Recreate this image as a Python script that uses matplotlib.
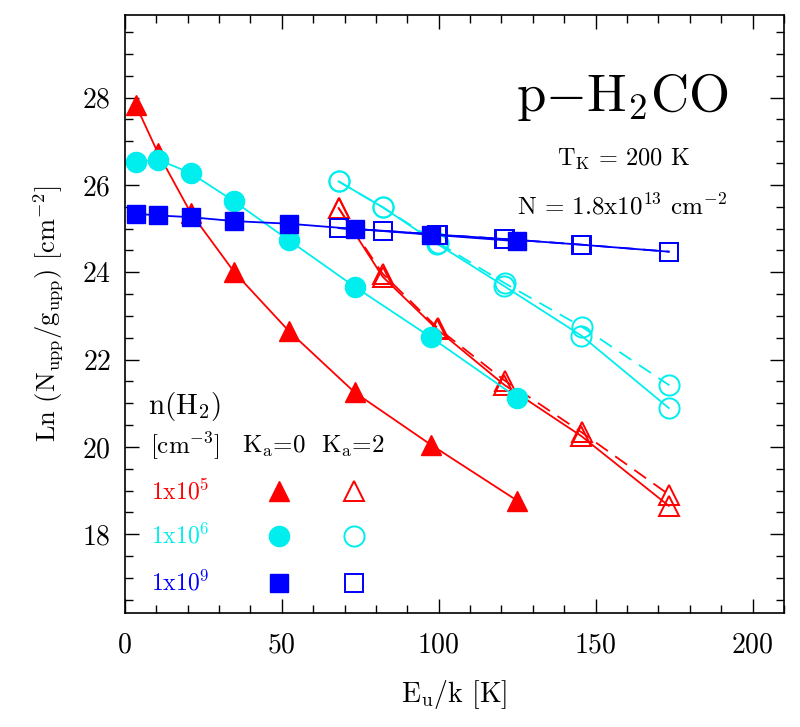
import matplotlib

matplotlib.use('Agg')

import matplotlib.pyplot as plt
from matplotlib.ticker import MultipleLocator

plt.rcParams['font.family'] = 'cmr10'
plt.rcParams['mathtext.fontset'] = 'cm'
plt.rcParams['axes.formatter.use_mathtext'] = True

# upper level energies (K)
eu_k0 = [3.5, 10.5, 21.0, 34.9, 52.3, 73.2, 97.5, 125.0]
eu_k2_a = [68.1, 82.1, 99.5, 120.9, 145.4, 173.3]
eu_k2_b = [68.1, 82.1, 99.7, 121.0, 145.6, 173.5]

# n(H2) = 1e5
red_k0 = [27.83, 26.74, 25.36, 24.0, 22.65, 21.25, 20.05, 18.77]
red_k2_a = [25.47, 23.90, 22.69, 21.42, 20.25, 18.65]
red_k2_b = [25.47, 23.97, 22.72, 21.52, 20.33, 18.90]

# n(H2) = 1e6
cyan_k0 = [26.52, 26.58, 26.27, 25.62, 24.73, 23.67, 22.51, 21.13]
cyan_k2_a = [26.08, 25.49, 24.65, 23.68, 22.55, 20.89]
cyan_k2_b = [26.08, 25.49, 24.68, 23.75, 22.75, 21.41]

# n(H2) = 1e9
blue_k0 = [25.34, 25.30, 25.26, 25.17, 25.11, 24.99, 24.86, 24.71]
blue_k2_a = [25.01, 24.95, 24.86, 24.76, 24.63, 24.47]
blue_k2_b = [25.01, 24.95, 24.86, 24.76, 24.63, 24.47]

densities = [r'1x10$^5$', r'1x10$^6$', r'1x10$^9$']
colors = ['#ff0000', '#00eeee', '#0000ff']
markers = ['^', 'o', 's']
msizes = [14, 14.5, 13]

fig = plt.figure(figsize=(8, 7.27), dpi=100)
ax = fig.add_axes([0.156, 0.157, 0.824, 0.823])

series = [
    (red_k0, red_k2_a, red_k2_b),
    (cyan_k0, cyan_k2_a, cyan_k2_b),
    (blue_k0, blue_k2_a, blue_k2_b),
]
for (k0, k2a, k2b), c, m, ms in zip(series, colors, markers, msizes):
    ax.plot(eu_k2_b, k2b, color=c, lw=1.3, ls=(0, (8, 5)), marker=m, ms=ms,
            mfc='none', mec=c, mew=1.4)
    ax.plot(eu_k2_a, k2a, color=c, lw=1.3, marker=m, ms=ms,
            mfc='none', mec=c, mew=1.4)
    ax.plot(eu_k0, k0, color=c, lw=1.3, marker=m, ms=ms, mfc=c, mec=c)

ax.set_xlim(0, 210)
ax.set_ylim(16.2, 29.9)
ax.xaxis.set_major_locator(MultipleLocator(50))
ax.xaxis.set_minor_locator(MultipleLocator(10))
ax.yaxis.set_major_locator(MultipleLocator(2))
ax.yaxis.set_minor_locator(MultipleLocator(0.5))
ax.tick_params(which='both', direction='in', top=True, right=True, labelsize=20)
ax.tick_params(which='major', length=10, width=1.0)
ax.tick_params(which='minor', length=5.5, width=1.0)
ax.tick_params(axis='x', pad=14)
ax.tick_params(axis='y', pad=10)
for s in ax.spines.values():
    s.set_linewidth(1.2)

ax.set_xlabel(r'E$_\mathrm{u}$/k [K]', fontsize=20, labelpad=14)
ax.set_ylabel(r'Ln (N$_\mathrm{upp}$/g$_\mathrm{upp}$) [cm$^{-2}$]', fontsize=19, labelpad=12)

tr = ax.transAxes
ax.text(0.754, 0.862, r'p$-$H$_2$CO', fontsize=38, ha='center', va='center', transform=tr)
ax.text(0.757, 0.757, r'T$_\mathrm{K}$ = 200 K', fontsize=17.5, ha='center', va='center',
        transform=tr)
ax.text(0.754, 0.679, r'N = 1.8x10$^{13}$ cm$^{-2}$', fontsize=18, ha='center',
        va='center', transform=tr)

# key
ax.text(0.090, 0.345, r'n(H$_2$)', fontsize=21, ha='center', va='center', transform=tr)
ax.text(0.091, 0.278, r'[cm$^{-3}$]', fontsize=18, ha='center', va='center', transform=tr)
ax.text(0.226, 0.278, r'K$_\mathrm{a}$=0', fontsize=18, ha='center', va='center', transform=tr)
ax.text(0.346, 0.278, r'K$_\mathrm{a}$=2', fontsize=18, ha='center', va='center', transform=tr)
rows = [0.203, 0.128, 0.050]
for lab, c, m, ms, yr in zip(densities, colors, markers, msizes, rows):
    ax.text(0.084, yr, lab, fontsize=17, color=c, ha='center', va='center', transform=tr)
    ax.plot([0.234], [yr], marker=m, ms=ms, color=c, transform=tr, clip_on=False)
    ax.plot([0.348], [yr], marker=m, ms=ms, mfc='none', mec=c, mew=1.4, transform=tr,
            clip_on=False)

fig.savefig('out.png', dpi=100)
